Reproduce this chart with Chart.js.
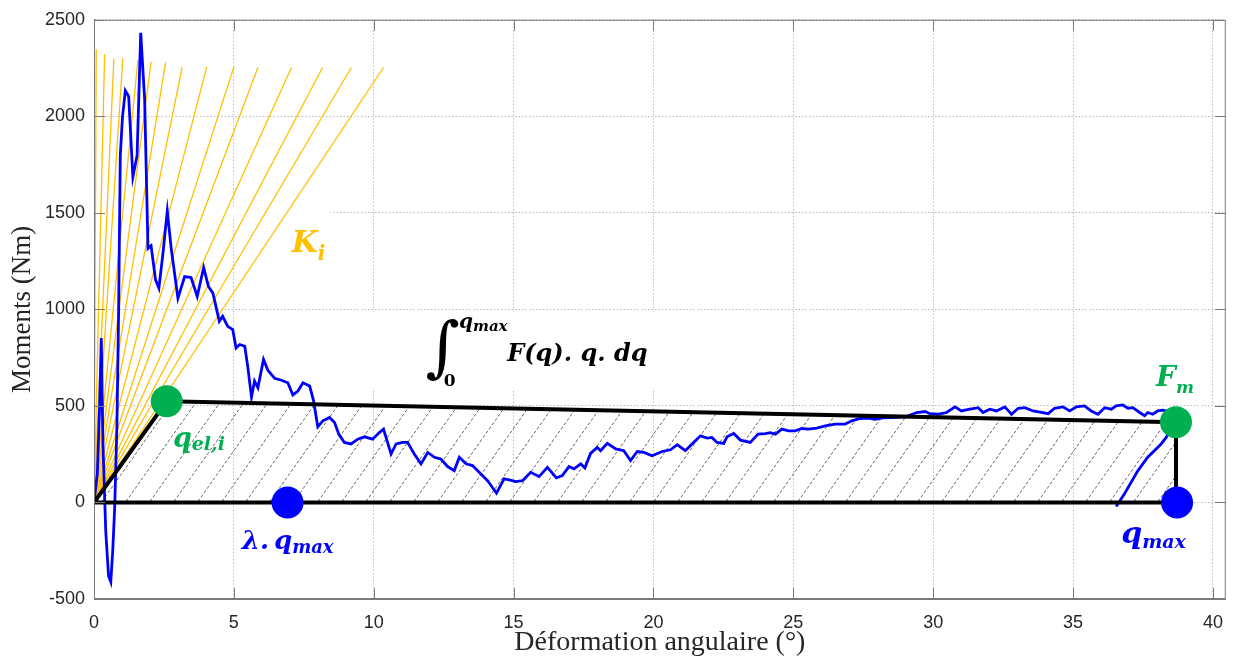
<!DOCTYPE html>
<html>
<head>
<meta charset="utf-8">
<script src="https://cdn.jsdelivr.net/npm/chart.js@4.4.0/dist/chart.umd.min.js"></script>
<style>
  html, body { margin: 0; padding: 0; background: #fff; }
  #wrap { width: 1236px; height: 661px; }
</style>
</head>
<body>
<div id="wrap"><canvas id="chart"></canvas></div>
<script>
// measured moment vs angular deformation
const curveX = [0, 0.12, 0.2, 0.26, 0.32, 0.42, 0.52, 0.6, 0.67, 0.74, 0.82, 0.88, 0.94, 1.02, 1.12, 1.24, 1.39, 1.54, 1.67, 1.81,
  1.93, 2.04, 2.2, 2.32, 2.46, 2.62, 2.76, 3.0, 3.24, 3.47, 3.69, 3.92, 4.09, 4.25, 4.4, 4.48, 4.6, 4.78, 4.96, 5.08,
  5.21, 5.39, 5.5, 5.63, 5.74, 5.86, 6.06, 6.22, 6.46, 6.7, 6.93, 7.11, 7.29, 7.47, 7.71, 7.85, 8.0, 8.18, 8.42, 8.6,
  8.75, 8.95, 9.19, 9.43, 9.67, 9.96, 10.2, 10.35, 10.62, 10.8, 11.03, 11.21, 11.45, 11.69, 11.93, 12.17, 12.4, 12.64, 12.88, 13.06,
  13.3, 13.53, 13.77, 14.07, 14.39, 14.66, 14.84, 15.08, 15.32, 15.61, 15.91, 16.21, 16.53, 16.74, 16.98, 17.16, 17.4, 17.55, 17.75, 17.99,
  18.11, 18.35, 18.65, 18.94, 19.18, 19.42, 19.66, 19.95, 20.31, 20.61, 20.85, 21.14, 21.38, 21.68, 21.92, 22.09, 22.27, 22.51, 22.63, 22.87,
  23.11, 23.46, 23.74, 24.0, 24.17, 24.36, 24.59, 24.83, 25.07, 25.31, 25.54, 25.84, 26.14, 26.5, 26.85, 27.09, 27.39, 27.68, 27.92, 28.2,
  28.52, 28.99, 29.41, 29.71, 29.88, 30.18, 30.48, 30.78, 31.01, 31.31, 31.61, 31.78, 32.03, 32.26, 32.56, 32.8, 33.04, 33.28, 33.57, 33.87,
  34.11, 34.34, 34.64, 34.88, 35.12, 35.41, 35.65, 35.89, 36.13, 36.37, 36.54, 36.78, 36.96, 37.14, 37.38, 37.56, 37.67, 37.85, 38.03, 38.21,
  38.45, 38.55, 38.51, 38.33, 38.15, 37.67, 37.32, 36.84, 36.54];
const curveY = [0, 150, 500, 852, 300, -150, -380, -411, -250, -24, 400, 990, 1797, 2000, 2133, 2103, 1686, 1797, 2433, 2089,
  1316, 1330, 1153, 1110, 1284, 1509, 1316, 1058, 1170, 1165, 1067, 1217, 1119, 1084, 990, 938, 964, 912, 895, 800,
  818, 809, 700, 546, 629, 594, 741, 684, 643, 633, 620, 557, 577, 620, 603, 526, 392, 423, 440, 414,
  354, 311, 303, 328, 340, 328, 362, 380, 251, 303, 311, 311, 251, 200, 259, 234, 225, 186, 165, 234,
  200, 191, 156, 113, 48, 122, 117, 108, 113, 156, 134, 182, 127, 139, 186, 174, 200, 179, 254, 285,
  268, 306, 277, 268, 217, 264, 259, 242, 264, 273, 299, 268, 303, 345, 333, 337, 311, 306, 340, 357,
  323, 311, 354, 357, 362, 354, 380, 371, 371, 383, 380, 385, 397, 406, 406, 423, 435, 437, 431, 438,
  440, 443, 466, 471, 460, 457, 466, 495, 474, 483, 491, 466, 483, 474, 495, 457, 488, 491, 474, 466,
  460, 488, 495, 474, 495, 500, 474, 457, 491, 483, 500, 505, 488, 491, 466, 449, 466, 457, 474, 478,
  470, 430, 388, 337, 303, 234, 165, 45, -21];

// stiffness lines K_i, all starting at the origin
const kiEndX = [0.08, 0.38, 0.71, 1.03, 1.57, 2.04, 2.56, 3.15, 4.03, 5.0, 5.86, 7.06, 8.17, 9.2, 10.35];
const kiEndY = [2347, 2321, 2299, 2299, 2292, 2282, 2279, 2253, 2256, 2256, 2253, 2253, 2253, 2253, 2253];

// energy zone (closed shape)
const zoneX = [0, 2.6, 38.68, 38.68, 0];
const zoneY = [0, 524, 416, 0, 0];

const greenX = [2.6, 38.68];
const greenY = [524, 416];
const blueX = [6.92, 38.72];
const blueY = [0, 0];

const xTicks = [0, 5, 10, 15, 20, 25, 30, 35, 40];
const yTicks = [-500, 0, 500, 1000, 1500, 2000, 2500];

const ORANGE = '#FFC000';
const GREEN = '#00B050';
const BLUE = '#0000FF';
const mf = s => 'bold italic ' + s + 'px "DejaVu Serif"';

// annotations: anchor in data units, then pieces [text, size, dy, gap]
const notes = [
  { x: 7.07, y: 1296, color: ORANGE, parts: [['K', 30, 0], ['i', 20, 8]] },
  { x: 2.82, y: 287, color: GREEN, parts: [['q', 27, 0], ['el,i', 19, 3]] },
  { x: 5.28, y: -243, color: BLUE, parts: [['λ.', 26, 0, 5], ['q', 26, 0], ['max', 18, 4]] },
  { x: 36.72, y: -212, color: BLUE, parts: [['q', 30, 0], ['max', 19, 5]] },
  { x: 37.97, y: 601, color: GREEN, parts: [['F', 28, 0], ['m', 17, 7]] },
  { x: 14.77, y: 735, color: '#000', parts: [['F(q). q. dq', 24, 0]] },
  { x: 13.05, y: 904, color: '#000', parts: [['q', 20, 0], ['max', 15, 3]] },
  { x: 12.5, y: 601, color: '#000', parts: [['0', 17, 0]], upright: true }
];

function hatchPattern() {
  const c = document.createElement('canvas');
  c.width = 24; c.height = 34;
  const g = c.getContext('2d');
  g.strokeStyle = '#555';
  g.lineWidth = 0.9;
  g.setLineDash([3.2, 2]);
  for (const dx of [-24, 0, 24]) {
    g.beginPath();
    g.moveTo(dx, 34);
    g.lineTo(dx + 24, 0);
    g.stroke();
  }
  return g.createPattern(c, 'repeat');
}

const pts = (xs, ys) => xs.map((x, i) => ({x: x, y: ys[i]}));

const datasets = [
  { data: pts(greenX, greenY), showLine: false, pointRadius: 16, pointBackgroundColor: GREEN, pointBorderWidth: 0, order: 0 },
  { data: pts(blueX, blueY), showLine: false, pointRadius: 16, pointBackgroundColor: BLUE, pointBorderWidth: 0, order: 0 },
  { data: pts(zoneX, zoneY), showLine: true, borderColor: '#000', borderWidth: 4, pointRadius: 0,
    fill: 'shape', backgroundColor: hatchPattern(), borderJoinStyle: 'miter', order: 1 },
  { data: pts(curveX, curveY), showLine: true, borderColor: BLUE, borderWidth: 2.8, pointRadius: 0, order: 2 }
];
kiEndX.forEach((x, i) => {
  datasets.push({ data: [{x: 0, y: 0}, {x: x, y: kiEndY[i]}], showLine: true, borderColor: ORANGE,
    borderWidth: 1.3, pointRadius: 0, order: 3 });
});

const boxPlugin = {
  id: 'boxPlugin',
  beforeDatasetsDraw(chart) {
    // white backgrounds of the text boxes hiding the grid
    const {ctx} = chart;
    const xs = chart.scales.x, ys = chart.scales.y;
    ctx.save();
    ctx.fillStyle = '#fff';
    const rect = (x0, x1, y0, y1) => {
      const a = xs.getPixelForValue(x0), b = xs.getPixelForValue(x1);
      const c = ys.getPixelForValue(y1), d = ys.getPixelForValue(y0);
      ctx.fillRect(a, c, b - a, d - c);
    };
    rect(0.05, 8.45, 1470, 1530);
    rect(9.6, 21.5, 590, 990);
    ctx.restore();
  },
  afterDatasetsDraw(chart) {
    const {ctx, chartArea: a} = chart;
    const xs = chart.scales.x, ys = chart.scales.y;
    ctx.save();
    ctx.strokeStyle = '#7a7a7a';
    ctx.lineWidth = 1;
    ctx.strokeRect(a.left + 0.5, a.top + 0.5, a.right - a.left - 1, a.bottom - a.top - 1);
    ctx.beginPath();
    xTicks.forEach(v => {
      const p = Math.round(xs.getPixelForValue(v)) + 0.5;
      ctx.moveTo(p, a.bottom); ctx.lineTo(p, a.bottom - 11);
      ctx.moveTo(p, a.top); ctx.lineTo(p, a.top + 11);
    });
    yTicks.forEach(v => {
      const p = Math.round(ys.getPixelForValue(v)) + 0.5;
      ctx.moveTo(a.left, p); ctx.lineTo(a.left + 11, p);
      ctx.moveTo(a.right, p); ctx.lineTo(a.right - 11, p);
    });
    ctx.stroke();

    // integral sign
    ctx.fillStyle = '#000';
    ctx.font = 'italic 66px "DejaVu Serif"';
    ctx.textBaseline = 'alphabetic';
    ctx.fillText('∫', xs.getPixelForValue(11.85), ys.getPixelForValue(689));

    notes.forEach(n => {
      let px = xs.getPixelForValue(n.x);
      const py = ys.getPixelForValue(n.y);
      ctx.fillStyle = n.color;
      n.parts.forEach(p => {
        ctx.font = n.upright ? 'bold ' + p[1] + 'px "DejaVu Serif"' : mf(p[1]);
        ctx.fillText(p[0], px, py + p[2]);
        px += ctx.measureText(p[0]).width + (p[3] || 0);
      });
    });
    ctx.restore();
  }
};

new Chart(document.getElementById('chart'), {
  type: 'scatter',
  data: { datasets: datasets },
  options: {
    responsive: true,
    maintainAspectRatio: false,
    animation: false,
    events: [],
    layout: { autoPadding: false, padding: { top: 16, right: 8, left: 0, bottom: 0 } },
    plugins: {
      legend: { display: false },
      tooltip: { enabled: false },
      filler: { drawTime: 'beforeDatasetsDraw' }
    },
    scales: {
      x: {
        type: 'linear', min: 0, max: 40.46,
        afterBuildTicks: s => { s.ticks = xTicks.map(v => ({value: v})); },
        afterFit: s => { s.height = 62; },
        grid: { color: '#bcbcbc', lineWidth: 1, drawTicks: false },
        border: { display: true, color: '#7a7a7a', width: 1, dash: [1.5, 2] },
        ticks: { color: '#262626', font: { family: 'Liberation Sans', size: 18 }, padding: 13, maxRotation: 0,
          callback: v => String(v) },
        title: { display: true, text: 'Déformation angulaire (°)', color: '#262626',
          font: { family: 'Liberation Serif', size: 28 }, padding: { top: 0, bottom: 2 } }
      },
      y: {
        type: 'linear', min: -500, max: 2500,
        afterBuildTicks: s => { s.ticks = yTicks.map(v => ({value: v})); },
        afterFit: s => { s.width = 94; },
        grid: { color: '#bcbcbc', lineWidth: 1, drawTicks: false },
        border: { display: true, color: '#7a7a7a', width: 1, dash: [1.5, 2] },
        ticks: { color: '#262626', font: { family: 'Liberation Sans', size: 18 }, padding: 9,
          callback: v => String(v) },
        title: { display: true, text: 'Moments (Nm)', color: '#262626',
          font: { family: 'Liberation Serif', size: 27 }, padding: { top: 7, bottom: 0 } }
      }
    }
  },
  plugins: [boxPlugin]
});
</script>
</body>
</html>
